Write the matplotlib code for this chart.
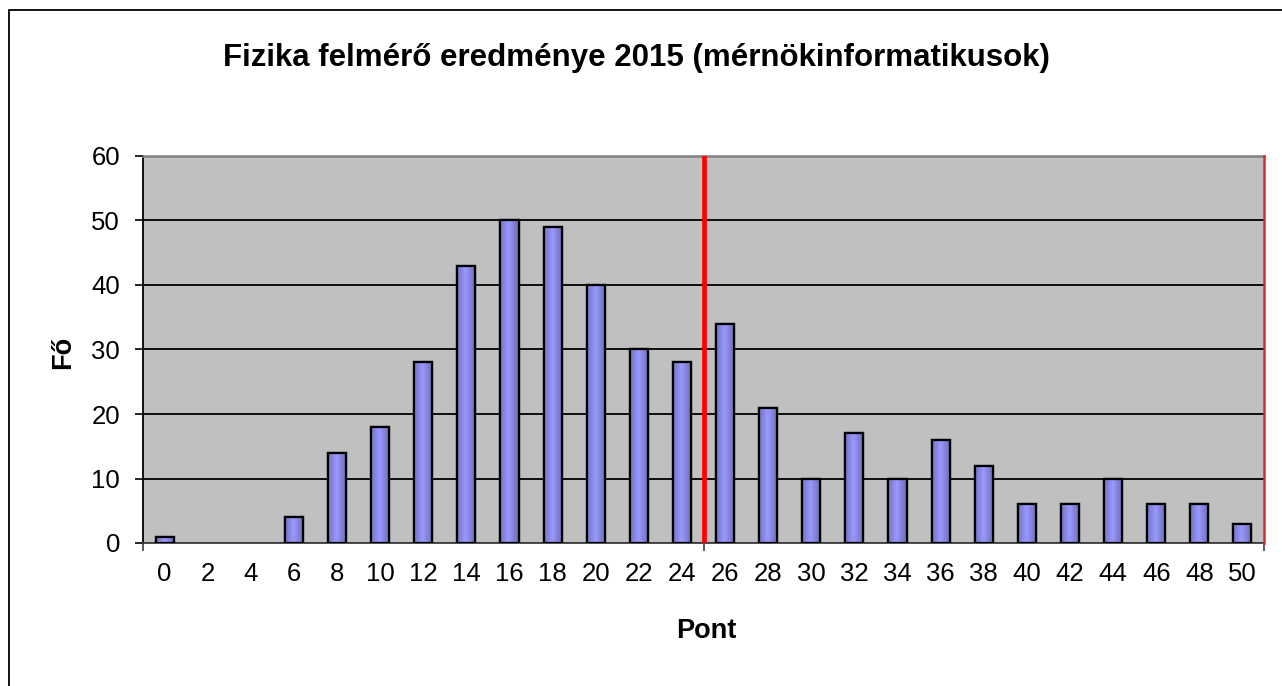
import matplotlib
matplotlib.use("Agg")
import matplotlib.pyplot as plt
import numpy as np
from matplotlib.patches import Rectangle

plt.rcParams['font.family'] = ['Liberation Sans', 'DejaVu Sans']

categories = ["0", "2", "4", "6", "8", "10", "12", "14", "16", "18", "20", "22", "24",
              "26", "28", "30", "32", "34", "36", "38", "40", "42", "44", "46", "48", "50"]
counts = [1, 0, 0, 4, 14, 18, 28, 43, 50, 49, 40, 30, 28,
          34, 21, 10, 17, 10, 16, 12, 6, 6, 10, 6, 6, 3]
threshold_position = 12.5  # boundary between "24" and "26"
title = "Fizika felmérő eredménye 2015 (mérnökinformatikusok)"
xlabel = "Pont"
ylabel = "Fő"
yticks = [0, 10, 20, 30, 40, 50, 60]

fig = plt.figure(figsize=(12.82, 6.86), dpi=100)
fig.patch.set_facecolor('white')
# outer chart border (extends beyond the image on right and bottom)
fig.patches.append(Rectangle((9 / 1282, -0.05), 1.2, (686 - 10) / 686 + 0.05,
                             transform=fig.transFigure, fill=False,
                             edgecolor='black', linewidth=1.3, zorder=0))

ax = fig.add_axes([143 / 1282, 143 / 686, (1264 - 143) / 1282, (543 - 156) / 686])
ax.set_facecolor('#c0c0c0')

x = np.arange(len(categories))
width = 0.42
edgecols = ['black' if c > 0 else 'none' for c in counts]
bars = ax.bar(x, counts, width=width, color='#9999ff', edgecolor=edgecols,
              linewidth=1.6, zorder=3)

# cylinder-like horizontal shading inside each bar
grad = np.linspace(0, 1, 64)
shade = 1 - 0.3 * np.abs(grad - 0.45) / 0.55
base = np.array([0x99, 0x99, 0xff]) / 255.0
img = np.clip(base[None, :] * shade[:, None], 0, 1)[None, :, :]
for b in bars:
    h = b.get_height()
    if h <= 0:
        continue
    x0 = b.get_x()
    im = ax.imshow(img, extent=(x0, x0 + b.get_width(), 0, h), aspect='auto',
                   zorder=3.5, interpolation='bilinear')
    im.set_clip_path(b)
    ax.bar(b.get_x() + b.get_width() / 2, h, width=b.get_width(),
           fill=False, edgecolor='black', linewidth=1.6, zorder=4)

ax.set_xlim(-0.5, len(categories) - 0.5)
ax.set_ylim(0, 60)
ax.set_yticks(yticks)
ax.set_yticklabels([str(v) for v in yticks], fontsize=18.5)
ax.yaxis.grid(True, color='black', linewidth=1.3, zorder=1)
ax.set_axisbelow(True)

ax.set_xticks(x)
ax.set_xticklabels(categories, fontsize=18.5)
ax.tick_params(axis='x', which='major', length=0, pad=14)
ax.set_xticks([-0.5, threshold_position, len(categories) - 0.5], minor=True)
ax.tick_params(axis='x', which='minor', length=6, width=1.2, color='#404040')
ax.tick_params(axis='y', length=5.5, width=1.2, pad=11, color='black')

ax.spines['top'].set_color('#808080')
ax.spines['top'].set_linewidth(1.8)
ax.spines['right'].set_visible(False)
ax.spines['left'].set_color('black')
ax.spines['left'].set_linewidth(1.3)
ax.spines['bottom'].set_color('#404040')
ax.spines['bottom'].set_linewidth(1.3)

ax.axvline(threshold_position, color='#ff0000', linewidth=3.4, zorder=5)
ax.axvline(len(categories) - 0.5, color='#d03030', linewidth=1.8, zorder=5, clip_on=False)

fig.text(636 / 1282, 1 - 58 / 686, title, ha='center', va='center',
         fontsize=22.5, fontweight='bold')
fig.text(706 / 1282, 1 - 631 / 686, xlabel, ha='center', va='center',
         fontsize=19.5, fontweight='bold')
fig.text(63 / 1282, 1 - 352 / 686, ylabel, ha='center', va='center',
         fontsize=19.5, fontweight='bold', rotation=90)

fig.savefig('out.png', dpi=100)
